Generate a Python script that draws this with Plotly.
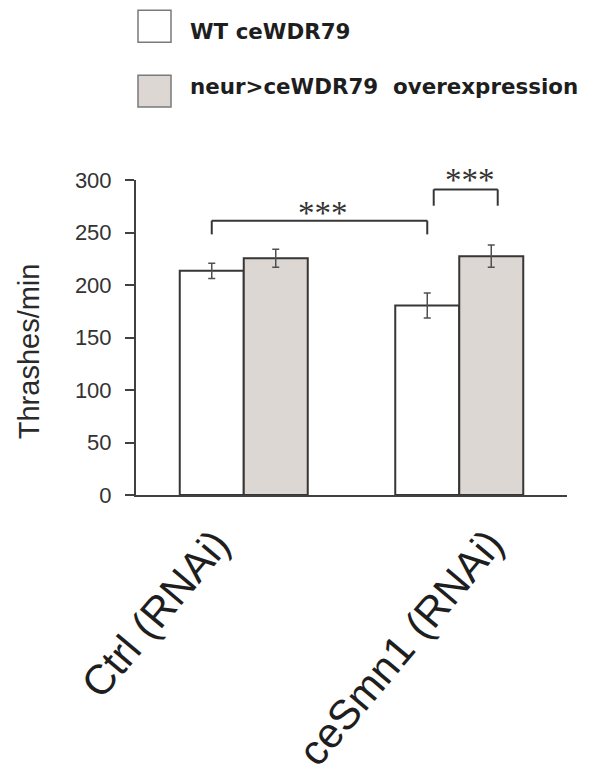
import plotly.graph_objects as go

# ---------------- data ----------------
categories = ["Ctrl (RNAi)", "ceSmn1 (RNAi)"]
series_names = ["WT ceWDR79", "neur>ceWDR79\u00a0\u00a0overexpression"]
wt_values = [213.5, 180.5]
wt_errors = [7.2, 12.0]
oe_values = [225.5, 227.5]
oe_errors = [8.5, 10.6]
y_ticks = [0, 50, 100, 150, 200, 250, 300]
sig_label = "***"

# ---------------- layout geometry ----------------
W, H = 591, 776
PL, PR, PT, PB = 136, 567, 180, 495.5   # plot area in pixels
BARGAP = 0.406
bw = (1 - BARGAP) / 2                   # width of one bar in category units

def px_x(px):
    return (px - PL) / (PR - PL)

def px_y(py):
    return (PB - py) / (PB - PT)

EDGE = "#363636"
WT_FILL = "#ffffff"
OE_FILL = "#ddd7d4"

fig = go.Figure()
fig.add_trace(go.Bar(
    name=series_names[0], x=categories, y=wt_values,
    marker=dict(color=WT_FILL, line=dict(color=EDGE, width=2)),
    error_y=dict(type="data", array=wt_errors, color="#505050", thickness=1.5, width=3.5),
))
fig.add_trace(go.Bar(
    name=series_names[1], x=categories, y=oe_values,
    marker=dict(color=OE_FILL, line=dict(color=EDGE, width=2)),
    error_y=dict(type="data", array=oe_errors, color="#505050", thickness=1.5, width=3.5),
))

shapes = []
annotations = []

def bracket(x0, x1, ytop, ybot):
    for (a, b, c, d) in [(x0, ytop, x1, ytop), (x0, ytop, x0, ybot), (x1, ytop, x1, ybot)]:
        shapes.append(dict(type="line", xref="x", yref="y", x0=a, y0=b, x1=c, y1=d,
                           line=dict(color=EDGE, width=2)))

star_font = dict(family="Liberation Serif, Times New Roman", size=33, color="#333")

# Ctrl WT vs ceSmn1 WT
b1x0, b1x1 = 0 - bw / 2, 1 - bw / 2
bracket(b1x0, b1x1, 261.3, 248.2)
annotations.append(dict(xref="x", yref="y", x=(b1x0 + b1x1) / 2 + 0.015, y=261.3,
                        text=sig_label, showarrow=False, yanchor="middle", yshift=8,
                        font=star_font))
# ceSmn1 WT vs OE
b2x0, b2x1 = 1 - bw / 2 + 0.03, 1 + bw / 2 + 0.03
bracket(b2x0, b2x1, 291.0, 275.5)
annotations.append(dict(xref="x", yref="y", x=(b2x0 + b2x1) / 2 + 0.02, y=291.0,
                        text=sig_label, showarrow=False, yanchor="middle", yshift=9,
                        font=star_font))

# category labels (rotated)
label_xshift = [-2, 56]
for i, cat in enumerate(categories):
    annotations.append(dict(xref="x", yref="paper", x=i, y=0, text=cat, showarrow=False,
                            textangle=-50, xanchor="right", yanchor="top",
                            xshift=label_xshift[i], yshift=-23,
                            font=dict(family="Liberation Sans, Arial", size=42, color="#1e1e1e")))

# y-axis title
annotations.append(dict(xref="paper", yref="paper", x=px_x(29), y=px_y(351.5),
                        text="Thrashes/min", showarrow=False, textangle=-90,
                        xanchor="center", yanchor="middle",
                        font=dict(family="Liberation Sans, Arial", size=29, color="#2a2a2a")))

# legend (custom, large swatches)
legend_rows = [(10, 42, WT_FILL), (75, 107, OE_FILL)]
legend_text_y = [31, 86]
for (y0, y1, fill), name, ty in zip(legend_rows, series_names, legend_text_y):
    shapes.append(dict(type="rect", xref="paper", yref="paper",
                       x0=px_x(138), x1=px_x(171), y0=px_y(y1), y1=px_y(y0),
                       fillcolor=fill, line=dict(color="#7a7a7a", width=1.5)))
    annotations.append(dict(xref="paper", yref="paper", x=px_x(188), y=px_y(ty),
                            text="<b>" + name + "</b>", showarrow=False,
                            xanchor="left", yanchor="middle",
                            font=dict(family="DejaVu Sans", size=21.4, color="#1e1e1e")))

fig.update_layout(
    width=W, height=H,
    margin=dict(l=PL, r=W - PR, t=PT, b=H - PB, pad=0),
    paper_bgcolor="white", plot_bgcolor="white",
    barmode="group", bargap=BARGAP, bargroupgap=0,
    showlegend=False,
    shapes=shapes, annotations=annotations,
    xaxis=dict(range=[-0.5, 1.5], showline=True, linecolor="#404040", linewidth=2,
               ticks="", showticklabels=False, showgrid=False, zeroline=False),
    yaxis=dict(range=[0, 300], tickvals=y_ticks, ticks="outside", ticklen=9, tickwidth=2,
               tickcolor="#404040", showline=True, linecolor="#404040", linewidth=2,
               showgrid=False, zeroline=False, ticklabelstandoff=9,
               tickfont=dict(family="Liberation Sans, Arial", size=22, color="#333")),
)

fig.write_html("out.html", config={"displayModeBar": False},
               post_script="document.body.style.margin='0px';")
